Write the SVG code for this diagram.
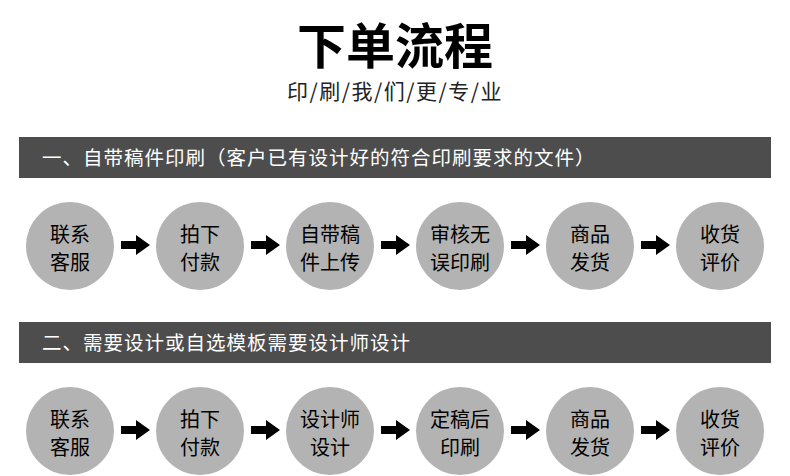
<svg xmlns="http://www.w3.org/2000/svg" width="790" height="476" viewBox="0 0 790 476">
<style>
text{font-family:"Noto Sans CJK SC","Noto Sans",sans-serif;}
.bar{fill:#4d4d4d}
.bt{fill:#fff;font-size:19.5px;letter-spacing:1px}
.c{fill:#b3b3b3}
.ct{fill:#000;font-size:20px;text-anchor:middle}
</style>
<defs>
<path id="arr" d="M-15,-4 H0 V-10 L14,0 L0,10 V4 H-15 Z" fill="#000"/>
</defs>
<text x="395" y="64" font-size="49" font-weight="bold" text-anchor="middle" fill="#000">下单流程</text>
<text x="395" y="99" font-size="21" letter-spacing="1.5" text-anchor="middle" fill="#222">印/刷/我/们/更/专/业</text>
<g id="bar1"><rect class="bar" x="19" y="137" width="752" height="41"/><text class="bt" x="42" y="165">一、自带稿件印刷（客户已有设计好的符合印刷要求的文件）</text></g>
<g id="bar2"><rect class="bar" x="19" y="322" width="752" height="41"/><text class="bt" x="42" y="350">二、需要设计或自选模板需要设计师设计</text></g>
<g id="r1n1"><circle class="c" cx="70" cy="246" r="44"/><text class="ct" x="70" y="242">联系</text><text class="ct" x="70" y="270">客服</text></g>
<g id="r1n2"><circle class="c" cx="200" cy="246" r="44"/><text class="ct" x="200" y="242">拍下</text><text class="ct" x="200" y="270">付款</text></g>
<g id="r1n3"><circle class="c" cx="330" cy="246" r="44"/><text class="ct" x="330" y="242">自带稿</text><text class="ct" x="330" y="270">件上传</text></g>
<g id="r1n4"><circle class="c" cx="460" cy="246" r="44"/><text class="ct" x="460" y="242">审核无</text><text class="ct" x="460" y="270">误印刷</text></g>
<g id="r1n5"><circle class="c" cx="590" cy="246" r="44"/><text class="ct" x="590" y="242">商品</text><text class="ct" x="590" y="270">发货</text></g>
<g id="r1n6"><circle class="c" cx="720" cy="246" r="44"/><text class="ct" x="720" y="242">收货</text><text class="ct" x="720" y="270">评价</text></g>
<g id="r2n1"><circle class="c" cx="70" cy="431" r="44"/><text class="ct" x="70" y="427">联系</text><text class="ct" x="70" y="455">客服</text></g>
<g id="r2n2"><circle class="c" cx="200" cy="431" r="44"/><text class="ct" x="200" y="427">拍下</text><text class="ct" x="200" y="455">付款</text></g>
<g id="r2n3"><circle class="c" cx="330" cy="431" r="44"/><text class="ct" x="330" y="427">设计师</text><text class="ct" x="330" y="455">设计</text></g>
<g id="r2n4"><circle class="c" cx="460" cy="431" r="44"/><text class="ct" x="460" y="427">定稿后</text><text class="ct" x="460" y="455">印刷</text></g>
<g id="r2n5"><circle class="c" cx="590" cy="431" r="44"/><text class="ct" x="590" y="427">商品</text><text class="ct" x="590" y="455">发货</text></g>
<g id="r2n6"><circle class="c" cx="720" cy="431" r="44"/><text class="ct" x="720" y="427">收货</text><text class="ct" x="720" y="455">评价</text></g>
<g id="connectors">
<use href="#arr" x="136" y="245"/><use href="#arr" x="266" y="245"/><use href="#arr" x="396" y="245"/><use href="#arr" x="526" y="245"/><use href="#arr" x="656" y="245"/>
<use href="#arr" x="136" y="430"/><use href="#arr" x="266" y="430"/><use href="#arr" x="396" y="430"/><use href="#arr" x="526" y="430"/><use href="#arr" x="656" y="430"/>
</g>
</svg>
